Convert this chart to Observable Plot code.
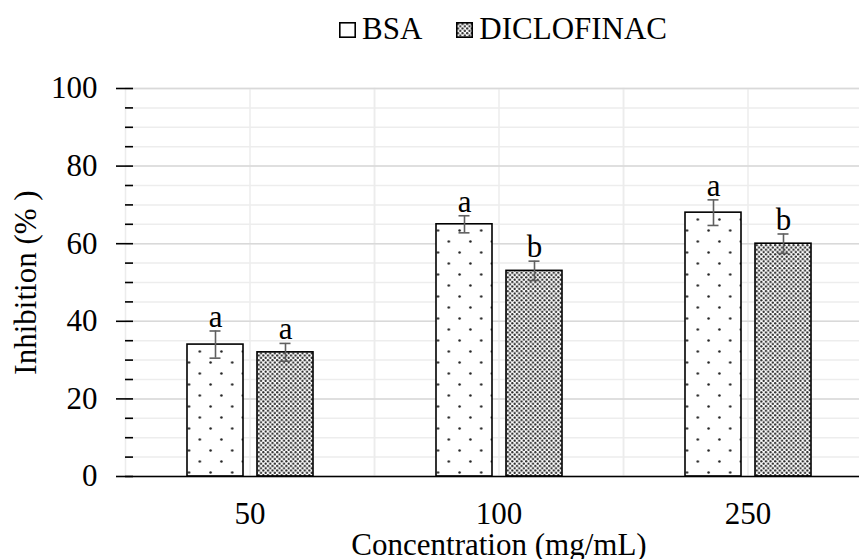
<!DOCTYPE html>
<html>
<head>
<meta charset="utf-8">
<script src="https://cdn.jsdelivr.net/npm/d3@7"></script>
<script src="https://cdn.jsdelivr.net/npm/@observablehq/plot@0.6"></script>
<style>
  html, body { margin: 0; padding: 0; background: #fff; overflow: hidden; }
  body { width: 859px; height: 559px; position: relative; font-family: "Liberation Serif", "Times New Roman", serif; }
  #legend { position: absolute; left: 339px; top: 11px; display: flex; align-items: center; font-size: 31px; color: #000; white-space: nowrap; }
  .item { display: flex; align-items: center; }
  .item + .item { margin-left: 34px; }
  .swatch { display: block; margin-right: 6px; margin-top: 2px; }
  #chart { position: absolute; left: 0; top: 60px; width: 872px; }
  #chart svg { max-width: none !important; }
</style>
</head>
<body>
<!-- fill patterns shared by the bars and the legend swatches -->
<svg width="0" height="0" style="position:absolute">
  <defs>
    <pattern id="dots-sparse" width="21.6" height="22" patternUnits="userSpaceOnUse">
      <rect width="21.6" height="22" fill="#fff"/>
      <circle cx="5.4" cy="5.5" r="1.25" fill="#222"/>
      <circle cx="16.2" cy="16.5" r="1.25" fill="#222"/>
    </pattern>
    <pattern id="dots-dense" width="4.6" height="4.6" patternUnits="userSpaceOnUse">
      <rect width="4.6" height="4.6" fill="#fff"/>
      <circle cx="1.15" cy="1.15" r="1.15" fill="#262626"/>
      <circle cx="3.45" cy="3.45" r="1.15" fill="#262626"/>
    </pattern>
  </defs>
</svg>
<div id="legend"></div>
<div id="chart"></div>
<script>
// Protein denaturation inhibition by concentration
const concentrations = ["50", "100", "250"];
const seriesNames = ["BSA", "DICLOFINAC"];
const bsaMean = [34, 65, 68];
const bsaError = [3.5, 2.2, 3.3];
const bsaLetters = ["a", "a", "a"];
const diclofinacMean = [32, 53, 60];
const diclofinacError = [2.3, 2.5, 2.5];
const diclofinacLetters = ["a", "b", "b"];
const yMajorTicks = [0, 20, 40, 60, 80, 100];
const yMinorTicks = d3.range(0, 101, 5);

const patterns = {BSA: "url(#dots-sparse)", DICLOFINAC: "url(#dots-dense)"};
// pattern phase used inside each legend swatch
const swatchOffset = {BSA: [8.7, -2], DICLOFINAC: [0, 0]};

const rows = concentrations.flatMap((conc, i) => [
  {conc, series: "BSA", mean: bsaMean[i], err: bsaError[i], letter: bsaLetters[i]},
  {conc, series: "DICLOFINAC", mean: diclofinacMean[i], err: diclofinacError[i], letter: diclofinacLetters[i]}
]);

const font = "'Liberation Serif', 'Times New Roman', serif";
const errColor = "#5f5f5f";

const chart = Plot.plot({
  width: 872,
  height: 499,
  marginLeft: 125,
  marginRight: 0,
  marginTop: 28,
  marginBottom: 83,
  style: {fontFamily: font, fontSize: "31px", color: "#000", background: "#fff", maxWidth: "none"},
  fx: {domain: concentrations, padding: 0},
  x: {domain: seriesNames, paddingInner: 0.2, paddingOuter: 0.86, axis: null},
  y: {domain: [0, 100]},
  marks: [
    Plot.gridY(yMinorTicks, {stroke: "#ededed", strokeOpacity: 1, strokeWidth: 1.5}),
    Plot.gridFx({stroke: "#ececec", strokeOpacity: 1, strokeWidth: 1.5}),
    Plot.frame({stroke: "#ececec", strokeWidth: 1.5}),
    Plot.gridY(yMajorTicks, {stroke: "#d9d9d9", strokeOpacity: 1, strokeWidth: 1.5}),
    ...seriesNames.map(name =>
      Plot.barY(rows.filter(d => d.series === name), {
        fx: "conc", x: "series", y: "mean",
        fill: patterns[name], stroke: "#000", strokeWidth: 1.6
      })
    ),
    Plot.ruleX(rows, {fx: "conc", x: "series", y1: d => d.mean - d.err, y2: d => d.mean + d.err, stroke: errColor, strokeWidth: 1.6}),
    Plot.tickY(rows, {fx: "conc", x: "series", y: d => d.mean + d.err, insetLeft: 22.5, insetRight: 22.5, stroke: errColor, strokeWidth: 1.6}),
    Plot.tickY(rows, {fx: "conc", x: "series", y: d => d.mean - d.err, insetLeft: 22.5, insetRight: 22.5, stroke: errColor, strokeWidth: 1.6}),
    Plot.text(rows, {fx: "conc", x: "series", y: d => d.mean + d.err, text: "letter", dy: -4, lineAnchor: "bottom", fontSize: 31}),
    Plot.ruleY([0], {stroke: "#000", strokeWidth: 1.6}),
    Plot.axisY(yMinorTicks, {tickSize: 8, dx: 8, tickFormat: () => "", label: null, stroke: "#000", strokeWidth: 1.6}),
    Plot.axisY(yMajorTicks, {
      tickSize: 9, tickPadding: 19, fontSize: 31, stroke: "#000", strokeWidth: 1.6,
      line: true, label: "Inhibition (% )", labelAnchor: "center", labelOffset: 112, labelArrow: "none"
    }),
    Plot.axisFx({
      anchor: "bottom", tickSize: 0, tickPadding: 25, fontSize: 31,
      label: "Concentration (mg/mL)", labelAnchor: "center", labelOffset: 78, labelArrow: "none"
    })
  ]
});
chart.style.maxWidth = "none";
document.getElementById("chart").appendChild(chart);

// legend
const legend = d3.select("#legend");
seriesNames.forEach(name => {
  const [ox, oy] = swatchOffset[name];
  const item = legend.append("div").attr("class", "item");
  const sw = item.append("svg").attr("class", "swatch").attr("width", 17).attr("height", 16);
  sw.append("g").attr("transform", `translate(${0.8 - ox},${0.8 - oy})`)
    .append("rect").attr("x", ox).attr("y", oy).attr("width", 15.4).attr("height", 14.4)
    .attr("fill", patterns[name]).attr("stroke", "#000").attr("stroke-width", 1.6);
  item.append("span").text(name);
});
</script>
</body>
</html>
